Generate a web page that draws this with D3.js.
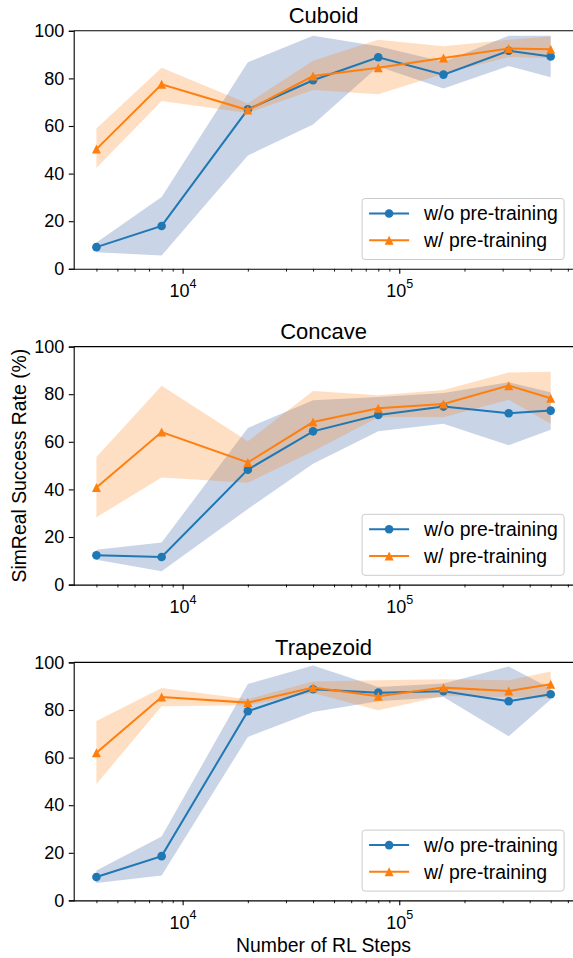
<!DOCTYPE html>
<html lang="en">
<head>
<meta charset="UTF-8" />
<title>SimReal Success Rate</title>
<script src="https://d3js.org/d3.v7.min.js"></script>
<style>
  body { margin: 0; background: #fff; }
  svg { display: block; font-family: "Liberation Sans", Arial, sans-serif; }
</style>
</head>
<body>
<svg id="chart" width="573" height="958"></svg>
<script>
const steps = [4000, 8000, 20000, 40000, 80000, 160000, 320000, 500000];
const seriesNames = ["w/o pre-training", "w/ pre-training"];
const panelTitles = ["Cuboid", "Concave", "Trapezoid"];
const yTicks = [0, 20, 40, 60, 80, 100];
const xMajorTicks = [1e4, 1e5];

// Cuboid
const cuboidWoMean = [9.1, 18.0, 67.0, 79.2, 88.9, 81.6, 91.6, 89.2];
const cuboidWoLow  = [7.0, 5.6, 47.6, 60.6, 85.0, 75.8, 85.2, 80.5];
const cuboidWoHigh = [11.0, 30.2, 86.8, 97.9, 93.5, 87.0, 97.9, 97.9];
const cuboidWMean  = [50.3, 77.5, 66.7, 81.0, 84.5, 88.6, 92.6, 92.2];
const cuboidWLow   = [42.4, 70.5, 65.5, 75.1, 73.3, 82.0, 89.0, 88.5];
const cuboidWHigh  = [59.0, 84.5, 69.5, 87.4, 96.2, 93.5, 96.2, 97.6];

// Concave
const concaveWoMean = [12.3, 11.6, 48.3, 64.4, 71.3, 74.8, 72.0, 73.1];
const concaveWoLow  = [10.4, 5.6, 31.8, 50.8, 64.4, 67.6, 58.5, 65.1];
const concaveWoHigh = [14.6, 17.7, 65.8, 77.5, 78.8, 80.5, 85.0, 80.8];
const concaveWMean  = [40.8, 64.1, 51.3, 68.3, 74.1, 75.9, 83.6, 78.3];
const concaveWLow   = [28.3, 45.0, 42.8, 56.0, 70.3, 70.3, 77.7, 67.6];
const concaveWHigh  = [53.6, 83.6, 60.2, 81.3, 79.6, 81.8, 89.1, 89.4];

// Trapezoid
const trapWoMean = [9.8, 18.6, 79.5, 88.7, 87.3, 87.9, 83.7, 86.6];
const trapWoLow  = [7.3, 10.5, 68.7, 79.2, 83.7, 85.5, 69.0, 84.4];
const trapWoHigh = [12.6, 26.8, 90.9, 98.7, 89.7, 91.1, 98.3, 89.0];
const trapWMean  = [62.0, 85.5, 83.1, 89.4, 85.8, 89.4, 88.0, 90.8];
const trapWLow   = [48.9, 81.6, 82.0, 87.1, 79.9, 85.9, 85.5, 85.0];
const trapWHigh  = [75.4, 89.2, 84.5, 92.0, 92.5, 92.9, 92.5, 96.2];

const panels = [
  { title: panelTitles[0], wo: [cuboidWoMean, cuboidWoLow, cuboidWoHigh], w: [cuboidWMean, cuboidWLow, cuboidWHigh] },
  { title: panelTitles[1], wo: [concaveWoMean, concaveWoLow, concaveWoHigh], w: [concaveWMean, concaveWLow, concaveWHigh] },
  { title: panelTitles[2], wo: [trapWoMean, trapWoLow, trapWoHigh], w: [trapWMean, trapWLow, trapWHigh] }
];

const colors = { wo: "#1f77b4", w: "#ff7f0e" };
const fills = { wo: ["#4c72b0", 0.3], w: ["#ff7f0e", 0.25] };

const svg = d3.select("#chart");
const left = 73.7, right = 573.4;
const panelTop = [30.8, 346.6, 662.4];
const panelH = 238;

// matplotlib-style 5% margin in log space
const lo = Math.log10(d3.min(steps)), hi = Math.log10(d3.max(steps));
const pad = (hi - lo) * 0.05;
const x = d3.scaleLog().domain([10 ** (lo - pad), 10 ** (hi + pad)]).range([left, right]);
const minorTicks = x.ticks().filter(t => !xMajorTicks.includes(t));

function trianglePath(cx, cy, s) {
  return `M${cx},${cy - s / 2}L${cx - s / 2},${cy + s / 2}L${cx + s / 2},${cy + s / 2}Z`;
}

panels.forEach((p, i) => {
  const top = panelTop[i], bottom = top + panelH;
  const y = d3.scaleLinear().domain([0, 100]).range([bottom, top]);
  const g = svg.append("g");

  // bands
  ["wo", "w"].forEach(key => {
    const [mean, low, high] = p[key];
    const area = d3.area()
      .x((d, j) => x(steps[j]))
      .y0((d, j) => y(low[j]))
      .y1((d, j) => y(high[j]));
    g.append("path")
      .attr("d", area(mean))
      .attr("fill", fills[key][0])
      .attr("fill-opacity", fills[key][1]);
  });

  // lines + markers
  ["wo", "w"].forEach(key => {
    const mean = p[key][0];
    const line = d3.line().x((d, j) => x(steps[j])).y(d => y(d));
    g.append("path")
      .attr("d", line(mean))
      .attr("fill", "none")
      .attr("stroke", colors[key])
      .attr("stroke-width", 2);
    if (key === "wo") {
      g.selectAll(null).data(mean).enter().append("circle")
        .attr("cx", (d, j) => x(steps[j]))
        .attr("cy", d => y(d))
        .attr("r", 4.3)
        .attr("fill", colors[key]);
    } else {
      g.selectAll(null).data(mean).enter().append("path")
        .attr("d", (d, j) => trianglePath(x(steps[j]), y(d), 9))
        .attr("fill", colors[key]);
    }
  });

  // spines
  g.append("line").attr("x1", left).attr("x2", right).attr("y1", top).attr("y2", top)
    .attr("stroke", "#000").attr("stroke-width", 1.1);

  // y axis
  const yAxis = g.append("g")
    .attr("transform", `translate(${left},0)`)
    .call(d3.axisLeft(y).tickValues(yTicks).tickSize(4.9).tickPadding(4.5));
  yAxis.select(".domain").attr("stroke", "#000").attr("stroke-width", 1.1);
  yAxis.selectAll(".tick line").attr("stroke-width", 1.1);
  yAxis.selectAll("text").attr("font-size", "18px").attr("fill", "#000")
    .attr("font-family", "Liberation Sans, Arial, sans-serif");

  // x axis: minor ticks
  const xMinor = g.append("g")
    .attr("transform", `translate(0,${bottom})`)
    .call(d3.axisBottom(x).tickValues(minorTicks).tickSize(2.8).tickFormat(""));
  xMinor.select(".domain").remove();
  xMinor.selectAll(".tick line").attr("stroke-width", 0.9);

  // x axis: major ticks
  const xAxis = g.append("g")
    .attr("transform", `translate(0,${bottom})`)
    .call(d3.axisBottom(x).tickValues(xMajorTicks).tickSize(4.9).tickFormat(""));
  xAxis.select(".domain").attr("d", `M${left},0.5H${right}`).attr("stroke", "#000").attr("stroke-width", 1.1);
  xAxis.selectAll(".tick line").attr("stroke-width", 1.1);
  xAxis.selectAll(".tick").each(function (d) {
    const t = d3.select(this).append("text")
      .attr("y", 28.4)
      .attr("text-anchor", "middle")
      .attr("fill", "#000")
      .attr("font-size", "18px")
      .attr("font-family", "Liberation Sans, Arial, sans-serif");
    t.append("tspan").text("10");
    t.append("tspan").attr("font-size", "12.6px").attr("dy", -9.4).text(String(Math.round(Math.log10(d))));
  });

  // title
  g.append("text")
    .attr("x", (left + right) / 2)
    .attr("y", top - 7.5)
    .attr("text-anchor", "middle")
    .attr("font-size", "22px")
    .attr("fill", "#000")
    .text(p.title);

  // legend
  const lw = 202, lh = 61;
  const lx = right - 9.3 - lw, ly = bottom - 9.3 - lh;
  const leg = g.append("g").attr("transform", `translate(${lx},${ly})`);
  leg.append("rect")
    .attr("x", 0).attr("y", 0).attr("width", lw).attr("height", lh)
    .attr("rx", 3).attr("fill", "#fff").attr("fill-opacity", 0.8)
    .attr("stroke", "#cccccc").attr("stroke-width", 1);
  ["wo", "w"].forEach((key, k) => {
    const cy = 15 + k * 26.7;
    leg.append("line").attr("x1", 7).attr("x2", 47).attr("y1", cy).attr("y2", cy)
      .attr("stroke", colors[key]).attr("stroke-width", 2);
    if (key === "wo") {
      leg.append("circle").attr("cx", 27).attr("cy", cy).attr("r", 4.3).attr("fill", colors[key]);
    } else {
      leg.append("path").attr("d", trianglePath(27, cy, 9)).attr("fill", colors[key]);
    }
    leg.append("text")
      .attr("x", 62).attr("y", cy).attr("dy", "0.35em")
      .attr("font-size", "19.4px").attr("fill", "#000")
      .text(seriesNames[k]);
  });
});

// axis labels
svg.append("text")
  .attr("transform", `translate(26,${panelTop[1] + panelH / 2}) rotate(-90)`)
  .attr("text-anchor", "middle")
  .attr("font-size", "19.4px")
  .attr("fill", "#000")
  .text("SimReal Success Rate (%)");

svg.append("text")
  .attr("x", (left + right) / 2)
  .attr("y", 952)
  .attr("text-anchor", "middle")
  .attr("font-size", "19.4px")
  .attr("fill", "#000")
  .text("Number of RL Steps");
</script>
</body>
</html>
